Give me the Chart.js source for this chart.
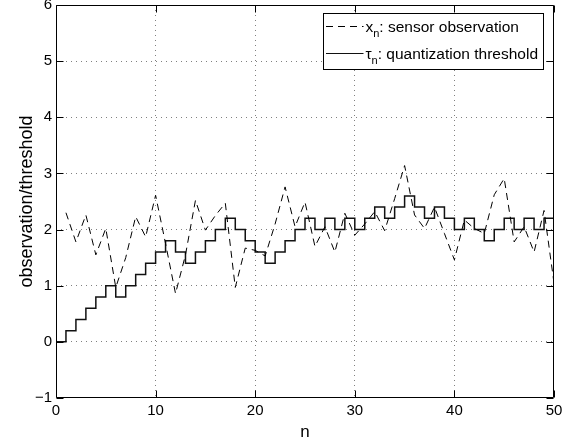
<!DOCTYPE html>
<html><head><meta charset="utf-8">
<script src="https://cdn.jsdelivr.net/npm/chart.js@4/dist/chart.umd.min.js"></script>
<style>html,body{margin:0;padding:0;background:#fff}</style>
</head><body>
<canvas id="c" width="578" height="444"></canvas>
<script>
// ---- data ----
const obsN = [1,2,3,4,5,6,7,8,9,10,11,12,13,14,15,16,17,18,19,20,21,22,23,24,25,26,27,28,29,30,31,32,33,34,35,36,37,38,39,40,41,42,43,44,45,46,47,48,49,50];
const obsValues = [2.30,1.78,2.26,1.55,2.02,0.97,1.50,2.23,1.87,2.61,1.75,0.86,1.55,2.52,1.99,2.25,2.47,0.97,1.67,1.63,1.53,2.10,2.76,2.05,2.49,1.70,2.05,1.60,2.29,1.90,2.10,2.32,1.98,2.55,3.14,2.26,2.02,2.40,1.93,1.46,2.17,2.02,1.93,2.62,2.91,1.78,2.05,1.60,2.34,1.05];
const thrN = [0,1,2,3,4,5,6,7,8,9,10,11,12,13,14,15,16,17,18,19,20,21,22,23,24,25,26,27,28,29,30,31,32,33,34,35,36,37,38,39,40,41,42,43,44,45,46,47,48,49,50];
const thrValues = [0,0.2,0.4,0.6,0.8,1.0,0.8,1.0,1.2,1.4,1.6,1.8,1.6,1.4,1.6,1.8,2.0,2.2,2.0,1.8,1.6,1.4,1.6,1.8,2.0,2.2,2.0,2.2,2.0,2.2,2.0,2.2,2.4,2.2,2.4,2.6,2.4,2.2,2.4,2.2,2.0,2.2,2.0,1.8,2.0,2.2,2.0,2.2,2.0,2.2,2.2];
const xTicks = [0,10,20,30,40,50];
const yTicks = [-1,0,1,2,3,4,5,6];
const seriesNames = [{sym:'x', sub:'n', rest:': sensor observation'},{sym:'\u03C4', sub:'n', rest:': quantization threshold'}];
const xTitle = 'n';
const yTitle = 'observation/threshold';

const FONT = "'Liberation Sans', Arial, Helvetica, sans-serif";
const DASH = [7,5];

const framePlugin = {
  id:'frame',
  afterDraw(chart){
    const {ctx, chartArea:a, scales:{x,y}} = chart;
    ctx.save();
    ctx.strokeStyle = '#000';
    ctx.lineWidth = 1;
    const L = Math.round(x.getPixelForValue(x.min)) + 0.5;
    const R = Math.round(x.getPixelForValue(x.max)) - 0.5;
    const T = Math.round(y.getPixelForValue(y.max)) + 0.5;
    const B = Math.round(y.getPixelForValue(y.min)) - 0.5;
    ctx.beginPath();
    ctx.rect(L, T, R - L, B - T);
    const tl = 7;
    xTicks.forEach(v => {
      const p = Math.round(x.getPixelForValue(v)) + 0.5;
      ctx.moveTo(p, B); ctx.lineTo(p, B - tl);
      ctx.moveTo(p, T); ctx.lineTo(p, T + tl);
    });
    yTicks.forEach(v => {
      const p = Math.round(y.getPixelForValue(v)) + 0.5;
      ctx.moveTo(L, p); ctx.lineTo(L + tl, p);
      ctx.moveTo(R, p); ctx.lineTo(R - tl, p);
    });
    ctx.stroke();

    // legend box inside the plot, top-right
    const bw = 220, bh = 56;
    const bx = Math.round(a.right - 11 - bw) + 0.5;
    const by = Math.round(a.top + 8) + 0.5;
    ctx.fillStyle = '#fff';
    ctx.fillRect(bx, by, bw, bh);
    ctx.strokeRect(bx, by, bw, bh);
    const rows = [by + 12.5, by + 39];
    chart.data.datasets.forEach((ds, i) => {
      const ry = Math.round(rows[i]) + 0.5;
      ctx.save();
      ctx.strokeStyle = ds.borderColor;
      ctx.lineWidth = 1;
      ctx.setLineDash(ds.borderDash || []);
      ctx.beginPath();
      ctx.moveTo(bx + 2.5, ry); ctx.lineTo(bx + 40, ry);
      ctx.stroke();
      ctx.restore();
      const nm = seriesNames[i];
      let tx = bx + 42;
      ctx.fillStyle = '#000';
      ctx.textBaseline = 'alphabetic';
      ctx.textAlign = 'left';
      const base = ry + 5;
      ctx.font = '15.5px ' + FONT;
      ctx.fillText(nm.sym, tx, base); tx += ctx.measureText(nm.sym).width;
      ctx.font = '11px ' + FONT;
      ctx.fillText(nm.sub, tx, base + 5); tx += ctx.measureText(nm.sub).width;
      ctx.font = '15.5px ' + FONT;
      ctx.fillText(nm.rest, tx, base);
    });
    ctx.restore();
  }
};

function fixTicks(list){ return s => { s.ticks = list.map(v => ({value:v})); }; }
const tickLabel = v => (v < 0 ? '\u2212' + Math.abs(v) : String(v));
const gridColor = c => (c.tick && (c.tick.value === c.scale.min || c.tick.value === c.scale.max)) ? 'rgba(0,0,0,0)' : '#808080';

new Chart(document.getElementById('c'), {
  type:'line',
  data:{datasets:[
    {label:'x_n: sensor observation', data: obsN.map((n,i)=>({x:n, y:obsValues[i]})),
     borderColor:'#000', borderWidth:1, borderDash:DASH, pointRadius:0, fill:false, tension:0},
    {label:'\u03C4_n: quantization threshold', data: thrN.map((n,i)=>({x:n, y:thrValues[i]})),
     borderColor:'#111', borderWidth:1.5, stepped:'before', pointRadius:0, fill:false}
  ]},
  options:{
    responsive:false, animation:false, devicePixelRatio:1,
    layout:{padding:{top:5, right:24, left:0, bottom:0}},
    plugins:{legend:{display:false}, tooltip:{enabled:false}},
    scales:{
      x:{type:'linear', min:0, max:50, afterBuildTicks: fixTicks(xTicks),
         ticks:{autoSkip:false, maxRotation:0, padding:4, color:'#000', font:{family:FONT, size:15}, callback:tickLabel},
         grid:{drawTicks:false, color:gridColor, lineWidth:1},
         border:{display:false, dash:[1,4]},
         title:{display:true, text:xTitle, color:'#000', font:{family:FONT, size:17}, padding:{top:0,bottom:1}},
         afterFit: s => { s.height = 46; s.paddingLeft = 0; s.paddingRight = 0; }},
      y:{type:'linear', min:-1, max:6, afterBuildTicks: fixTicks(yTicks),
         ticks:{autoSkip:false, padding:4, color:'#000', font:{family:FONT, size:15}, callback:tickLabel},
         grid:{drawTicks:false, color:gridColor, lineWidth:1},
         border:{display:false, dash:[1,4]},
         title:{display:true, text:yTitle, color:'#000', font:{family:FONT, size:18}, padding:{top:16,bottom:0}},
         afterFit: s => { s.width = 56; s.paddingTop = 0; s.paddingBottom = 0; }}
    }
  },
  plugins:[framePlugin]
});
</script>
</body></html>
